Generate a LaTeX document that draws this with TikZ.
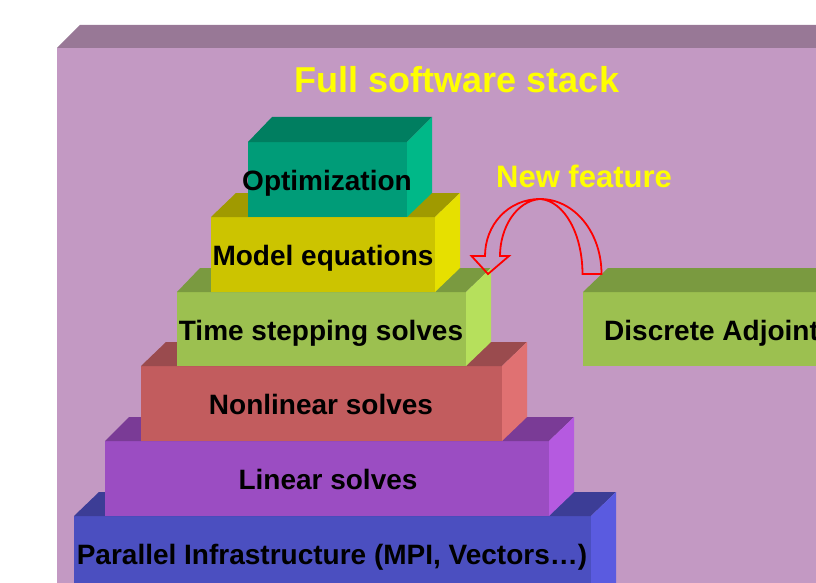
\documentclass[tikz,border=0pt]{standalone}
\usepackage{fontspec}
\setmainfont{Liberation Sans}
\definecolor{stackFront}{HTML}{C399C3}
\definecolor{stackTop}{HTML}{987896}
\definecolor{parFront}{HTML}{4B4FC0}
\definecolor{parTop}{HTML}{3C3D96}
\definecolor{parSide}{HTML}{5A5BE0}
\definecolor{linFront}{HTML}{9B4DC2}
\definecolor{linTop}{HTML}{7A3B96}
\definecolor{linSide}{HTML}{B55AE0}
\definecolor{nonFront}{HTML}{C25C5E}
\definecolor{nonTop}{HTML}{9A4B4E}
\definecolor{nonSide}{HTML}{E07172}
\definecolor{timeFront}{HTML}{9CC050}
\definecolor{timeTop}{HTML}{7A9A40}
\definecolor{timeSide}{HTML}{B6E05C}
\definecolor{modFront}{HTML}{CCC400}
\definecolor{modTop}{HTML}{A09A00}
\definecolor{modSide}{HTML}{E6E000}
\definecolor{optFront}{HTML}{009C78}
\definecolor{optTop}{HTML}{007E60}
\definecolor{optSide}{HTML}{00B888}
\definecolor{featYellow}{HTML}{FFFF00}

\begin{document}
\begin{tikzpicture}[
  x=1pt, y=-1pt,
  every node/.style={font=\bfseries\fontsize{28}{30}\selectfont, inner sep=0pt,
    text height=20pt, text depth=0pt},
  layer/.style={anchor=center, black},
  headline/.style={featYellow, font=\bfseries\fontsize{36}{38}\selectfont,
    text height=26pt},
  feature/.style={featYellow, font=\bfseries\fontsize{31}{33}\selectfont,
    text height=22pt},
  swap/.style={red, line width=1.8pt, line join=miter}
]
  \useasboundingbox (0,0) rectangle (816,583);
  \clip (0,0) rectangle (816,583);

  %% ---- big box holding the whole stack ------------------------------
  \fill[stackTop]   (57,48) -- (80,25) -- (870,25) -- (850,48) -- cycle;
  \fill[stackFront] (57,48) rectangle (850,600);
  \node[headline] (title) at (457,80) {Full software stack};

  %% ---- layers, bottom up ---------------------------------------------
  \fill[parFront] (74,516) rectangle (591,600);
  \fill[parTop]   (74,516) -- (99,492) -- (616,492) -- (591,516) -- cycle;
  \fill[parSide]  (591,516) -- (616,492) -- (616,600) -- (591,600) -- cycle;
  \node[layer] (par) at (332,554) {Parallel Infrastructure (MPI, Vectors…)};

  \fill[linFront] (105,441) rectangle (549,516);
  \fill[linTop]   (105,441) -- (129,417) -- (574,417) -- (549,441) -- cycle;
  \fill[linSide]  (549,441) -- (574,417) -- (574,492) -- (549,516) -- cycle;
  \node[layer] (lin) at (328,479) {Linear solves};

  \fill[nonFront] (141,366) rectangle (502,441);
  \fill[nonTop]   (141,366) -- (166,342) -- (527,342) -- (502,366) -- cycle;
  \fill[nonSide]  (502,366) -- (527,342) -- (527,417) -- (502,441) -- cycle;
  \node[layer] (non) at (321,404) {Nonlinear solves};

  \fill[timeFront] (177,292) rectangle (466,366);
  \fill[timeTop]   (177,292) -- (200,268) -- (491,268) -- (466,292) -- cycle;
  \fill[timeSide]  (466,292) -- (491,268) -- (491,342) -- (466,366) -- cycle;
  \node[layer] (time) at (321,330) {Time stepping solves};

  \fill[modFront] (211,217) rectangle (435,292);
  \fill[modTop]   (211,217) -- (236,193) -- (460,193) -- (435,217) -- cycle;
  \fill[modSide]  (435,217) -- (460,193) -- (460,268) -- (435,292) -- cycle;
  \node[layer] (mod) at (323,255) {Model equations};

  \fill[optFront] (248,142) rectangle (407,217);
  \fill[optTop]   (248,142) -- (272,117) -- (432,117) -- (407,142) -- cycle;
  \fill[optSide]  (407,142) -- (432,117) -- (432,193) -- (407,217) -- cycle;
  \node[layer] (opt) at (327,180) {Optimization};

  %% ---- the added block on the right ----------------------------------
  \fill[timeFront] (583,292) rectangle (850,366);
  \fill[timeTop]   (583,292) -- (608,268) -- (875,268) -- (850,292) -- cycle;
  \node[layer, anchor=west] (adj) at (604,330) {Discrete Adjoint};

  %% ---- twisted arrow swapping it in ------------------------------------
  \node[feature] (feat) at (584,176) {New feature};
  \draw[swap] (601.5,274) .. controls (601.5,232) and (574,199) .. (540,199)
    .. controls (508,199) and (485,225) .. (485,256)
    -- (471.5,256) -- (488,274) -- (509,256) -- (500,256)
    .. controls (500,228) and (516,201) .. (540,199)
    .. controls (565,201) and (582.5,235) .. (582.5,274) -- cycle;
\end{tikzpicture}
\end{document}
